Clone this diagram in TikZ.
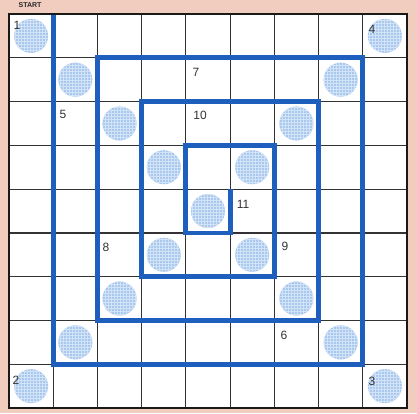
\documentclass[tikz,border=0pt]{standalone}
\usepackage{fontspec}
\setmainfont{Liberation Sans}
\usetikzlibrary{patterns}
\definecolor{paper}{HTML}{F0CDBE}
\definecolor{spiral}{HTML}{1E5FBE}
\definecolor{dotfill}{HTML}{A9C8EE}
\definecolor{dotgrid}{HTML}{D2E3F7}
\definecolor{numtext}{HTML}{333333}
\begin{document}
\begin{tikzpicture}[x=1pt,y=-1pt,
  gridline/.style={line width=1.2pt, draw=black!80},
  border/.style={line width=2.4pt, draw=black!90},
  spiralline/.style={line width=4.8pt, draw=spiral, line join=miter, line cap=butt},
  dot/.style={circle, minimum size=34pt, inner sep=0pt, preaction={fill=dotfill}, pattern=grid, pattern color=dotgrid},
  num/.style={font=\fontsize{12}{12}\selectfont, text=numtext, inner sep=0pt},
  lbl/.style={font=\bfseries\fontsize{7}{7}\selectfont, text=black!85, inner sep=0pt}]
\fill[paper] (0,0) rectangle (417,413);
\useasboundingbox (0,0) rectangle (417,413);
\fill[white] (9,14) rectangle (407,408);
\foreach \k in {1,...,8} {
  \draw[gridline] ({9+44.22*\k},14) -- ({9+44.22*\k},408);
  \draw[gridline] (9,{14+43.78*\k}) -- (407,{14+43.78*\k});
}
\begin{scope}[shift={(9,14)}, x=44.22pt, y=-43.78pt]
  % diagonal discs
  \foreach \i in {0,...,8} {
    \node[dot] (d\i) at (\i+0.5,\i+0.5) {};
  }
  \foreach \i in {0,1,2,3,5,6,7,8} {
    \node[dot] (a\i) at (8-\i+0.5,\i+0.5) {};
  }
  % spiral
  \draw[spiralline] (1,0) -- (1,8) -- (8,8) -- (8,1) -- (2,1) -- (2,7) -- (7,7) -- (7,2)
    -- (3,2) -- (3,6) -- (6,6) -- (6,3) -- (4,3) -- (4,5) -- (5,5) -- (5,4);
\end{scope}
\draw[border] (9,14) rectangle (407,408);
% numbers
\node[num] (n1) at (17,25) {1};
\node[num] (n2) at (16,380) {2};
\node[num] (n3) at (372,381) {3};
\node[num] (n4) at (372,29) {4};
\node[num] (n5) at (63,114) {5};
\node[num] (n6) at (284,335) {6};
\node[num] (n7) at (196,72) {7};
\node[num] (n8) at (106,247) {8};
\node[num] (n9) at (285,246) {9};
\node[num] (n10) at (200,115) {10};
\node[num] (n11) at (243,204) {11};
\node[lbl] (start) at (30,5.5) {START};
\end{tikzpicture}
\end{document}
